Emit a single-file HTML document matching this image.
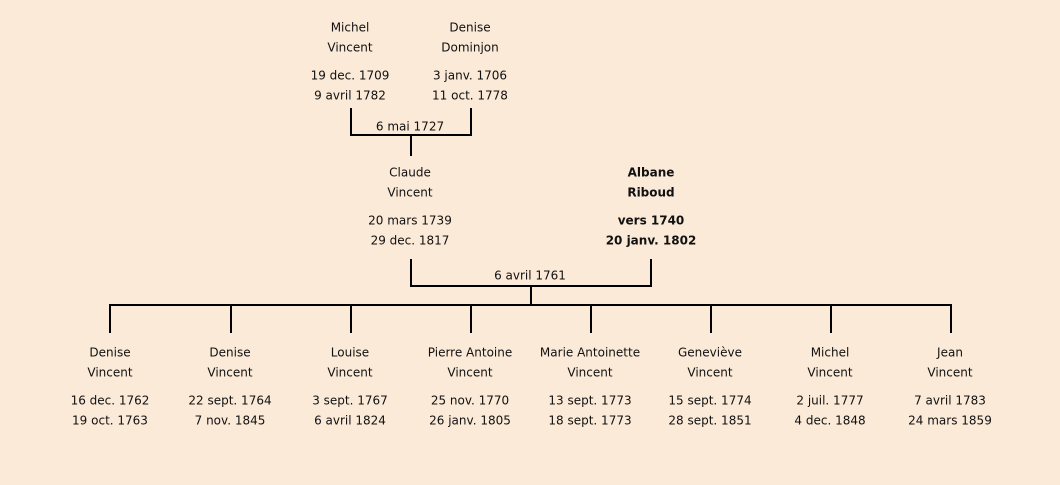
<!DOCTYPE html>
<html><head><meta charset="utf-8"><style>
html,body{margin:0;padding:0;background:#fbead8;}
svg{display:block}
text{font-family:"DejaVu Sans","Liberation Sans",sans-serif;font-size:12px;fill:#111;text-anchor:middle;dominant-baseline:middle}
.b{font-weight:bold}
</style></head><body>
<svg width="1060" height="485" xmlns="http://www.w3.org/2000/svg">
<rect width="1060" height="485" fill="#fbead8"/>
<g stroke="#000" stroke-width="2" fill="none">
<path d="M351 108V135H471V108M411 135V156"/>
<path d="M411 259V286H651V259M531 286V305"/>
<path d="M110 333V305H951V333"/>
<path d="M231 305V333M351 305V333M471 305V333M591 305V333M711 305V333M831 305V333"/>
</g>
<g transform="translate(0,1)">
<text x="350" y="27">Michel</text><text x="350" y="47">Vincent</text><text x="350" y="75">19 dec. 1709</text><text x="350" y="95">9 avril 1782</text>
<text x="470" y="27">Denise</text><text x="470" y="47">Dominjon</text><text x="470" y="75">3 janv. 1706</text><text x="470" y="95">11 oct. 1778</text>
<text x="410" y="126">6 mai 1727</text>
<text x="410" y="172">Claude</text><text x="410" y="192">Vincent</text><text x="410" y="220">20 mars 1739</text><text x="410" y="240">29 dec. 1817</text>
<text class="b" x="651" y="172">Albane</text><text class="b" x="651" y="192">Riboud</text><text class="b" x="651" y="220">vers 1740</text><text class="b" x="651" y="240">20 janv. 1802</text>
<text x="530" y="275">6 avril 1761</text>
<text x="110" y="352">Denise</text><text x="110" y="372">Vincent</text><text x="110" y="400">16 dec. 1762</text><text x="110" y="420">19 oct. 1763</text>
<text x="230" y="352">Denise</text><text x="230" y="372">Vincent</text><text x="230" y="400">22 sept. 1764</text><text x="230" y="420">7 nov. 1845</text>
<text x="350" y="352">Louise</text><text x="350" y="372">Vincent</text><text x="350" y="400">3 sept. 1767</text><text x="350" y="420">6 avril 1824</text>
<text x="470" y="352">Pierre Antoine</text><text x="470" y="372">Vincent</text><text x="470" y="400">25 nov. 1770</text><text x="470" y="420">26 janv. 1805</text>
<text x="590" y="352">Marie Antoinette</text><text x="590" y="372">Vincent</text><text x="590" y="400">13 sept. 1773</text><text x="590" y="420">18 sept. 1773</text>
<text x="710" y="352">Geneviève</text><text x="710" y="372">Vincent</text><text x="710" y="400">15 sept. 1774</text><text x="710" y="420">28 sept. 1851</text>
<text x="830" y="352">Michel</text><text x="830" y="372">Vincent</text><text x="830" y="400">2 juil. 1777</text><text x="830" y="420">4 dec. 1848</text>
<text x="950" y="352">Jean</text><text x="950" y="372">Vincent</text><text x="950" y="400">7 avril 1783</text><text x="950" y="420">24 mars 1859</text>
</g>
</svg>
</body></html>
